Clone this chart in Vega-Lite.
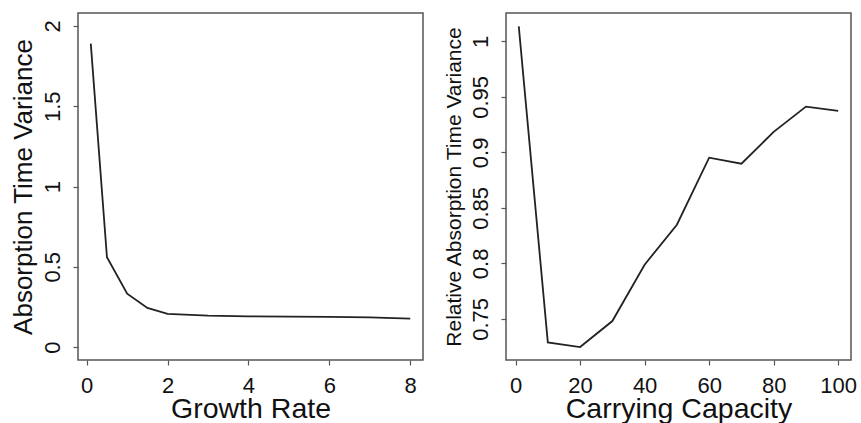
{
  "$schema": "https://vega.github.io/schema/vega-lite/v6.json",
  "background": "white",
  "padding": {"left": 9, "top": 12, "right": 0, "bottom": 0},
  "spacing": 83,
  "bounds": "flush",
  "config": {
    "font": "Liberation Sans",
    "view": {"stroke": "#555555", "strokeWidth": 1.5},
    "axis": {
      "grid": false,
      "domain": false,
      "tickColor": "#555555",
      "tickSize": 5,
      "tickWidth": 1.2,
      "labelFontSize": 22,
      "labelColor": "#111111",
      "labelFont": "Liberation Sans",
      "titleFont": "Liberation Sans",
      "titleFontSize": 28.5,
      "titleFontWeight": "normal",
      "titleColor": "#111111",
      "labelPadding": 10,
      "titlePadding": -2
    },
    "axisY": {"labelAngle": -90, "titlePadding": 5, "labelPadding": 9, "titleFontSize": 26}
  },
  "datasets": {
    "growth": [
      {"rate": 0.1, "variance": 1.889},
      {"rate": 0.5, "variance": 0.56},
      {"rate": 1.0, "variance": 0.333},
      {"rate": 1.5, "variance": 0.244},
      {"rate": 2.0, "variance": 0.207},
      {"rate": 3.0, "variance": 0.196},
      {"rate": 4.0, "variance": 0.192},
      {"rate": 5.0, "variance": 0.19},
      {"rate": 6.0, "variance": 0.188},
      {"rate": 7.0, "variance": 0.185},
      {"rate": 8.0, "variance": 0.178}
    ],
    "capacity": [
      {"capacity": 1, "relvar": 1.0135},
      {"capacity": 10, "relvar": 0.7288},
      {"capacity": 20, "relvar": 0.7246},
      {"capacity": 30, "relvar": 0.748},
      {"capacity": 40, "relvar": 0.7988},
      {"capacity": 50, "relvar": 0.8348},
      {"capacity": 60, "relvar": 0.8952},
      {"capacity": 70, "relvar": 0.8898},
      {"capacity": 80, "relvar": 0.9185},
      {"capacity": 90, "relvar": 0.9412},
      {"capacity": 100, "relvar": 0.9374}
    ]
  },
  "hconcat": [
    {
      "width": 345,
      "height": 347,
      "data": {"name": "growth"},
      "mark": {"type": "line", "color": "#222222", "strokeWidth": 1.8},
      "encoding": {
        "x": {
          "field": "rate",
          "type": "quantitative",
          "title": "Growth Rate",
          "scale": {"domain": [-0.216, 8.316], "nice": false, "zero": false},
          "axis": {"values": [0, 2, 4, 6, 8], "format": "d"}
        },
        "y": {
          "field": "variance",
          "type": "quantitative",
          "title": "Absorption Time Variance",
          "scale": {"domain": [-0.08, 2.08], "nice": false, "zero": false},
          "axis": {"values": [0, 0.5, 1, 1.5, 2], "format": "~g"}
        }
      }
    },
    {
      "width": 345,
      "height": 347,
      "data": {"name": "capacity"},
      "mark": {"type": "line", "color": "#222222", "strokeWidth": 1.8},
      "encoding": {
        "x": {
          "field": "capacity",
          "type": "quantitative",
          "title": "Carrying Capacity",
          "scale": {"domain": [-2.96, 103.96], "nice": false, "zero": false},
          "axis": {"values": [0, 20, 40, 60, 80, 100], "format": "d"}
        },
        "y": {
          "field": "relvar",
          "type": "quantitative",
          "title": "Relative Absorption Time Variance",
          "scale": {"domain": [0.7129, 1.0256], "nice": false, "zero": false},
          "axis": {"values": [0.75, 0.8, 0.85, 0.9, 0.95, 1], "format": "~g", "titleFontSize": 21}
        }
      }
    }
  ]
}
